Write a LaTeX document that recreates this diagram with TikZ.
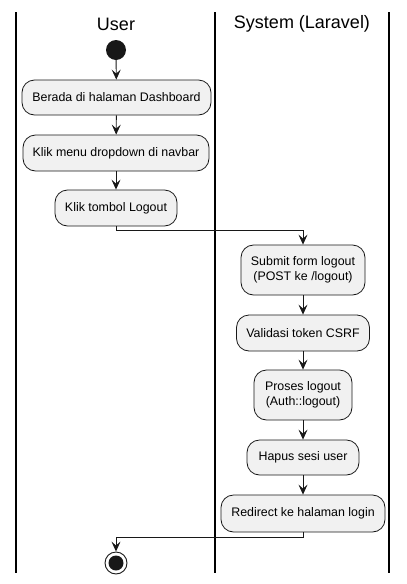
\documentclass[tikz,border=0pt]{standalone}
\usepackage{fontspec}
\setmainfont{Liberation Sans}
\usetikzlibrary{arrows.meta}
\definecolor{boxfill}{HTML}{F1F1F1}
\definecolor{boxline}{HTML}{181818}
\begin{document}
\begin{tikzpicture}[x=1pt,y=-1pt,
  act/.style={draw=boxline,fill=boxfill,rounded corners=12.5pt,line width=0.8pt,
    inner sep=0pt,align=center,font=\fontsize{12.4}{15}\selectfont},
  flow/.style={draw=boxline,line width=0.9pt,-{Stealth[length=10pt,width=9pt,inset=4pt]}},
  lane/.style={draw=black,line width=1.5pt},
  title/.style={font=\fontsize{18}{20}\selectfont}]
\useasboundingbox (0,0) rectangle (407,584);
% swimlanes
\draw[lane] (16,12) -- (16,573);
\draw[lane] (215,12) -- (215,573);
\draw[lane] (389,12) -- (389,573);
\node[title] (tu) at (116,24) {User};
\node[title] (ts) at (302,24) {System (Laravel)};
% start
\node[circle,fill=boxline,minimum size=20pt,inner sep=0pt] (start) at (116,50) {};
% activities
\node[act,minimum width=189pt,minimum height=35pt] (b1) at (116.5,97.5) {Berada di halaman Dashboard};
\node[act,minimum width=186pt,minimum height=36pt] (b2) at (116,153) {Klik menu dropdown di navbar};
\node[act,minimum width=122pt,minimum height=36pt] (b3) at (116,208) {Klik tombol Logout};
\node[act,minimum width=124pt,minimum height=50pt] (b4) at (303,270) {Submit form logout\\(POST ke /logout)};
\node[act,minimum width=133pt,minimum height=36pt] (b5) at (303,333) {Validasi token CSRF};
\node[act,minimum width=98pt,minimum height=50pt] (b6) at (303,395) {Proses logout\\(Auth::logout)};
\node[act,minimum width=112pt,minimum height=35pt] (b7) at (303,457.5) {Hapus sesi user};
\node[act,minimum width=164pt,minimum height=37pt] (b8) at (303,513.5) {Redirect ke halaman login};
% end
\node[circle,draw=boxline,fill=white,line width=0.9pt,minimum size=22pt,inner sep=0pt] (end) at (116,563) {};
\node[circle,fill=boxline,minimum size=15pt,inner sep=0pt] (endin) at (116,563) {};
% flows
\draw[flow] (start) -- (b1);
\draw[flow] (b1) -- (b2);
\draw[flow] (b2) -- (b3);
\draw[flow] (b3.south) -- ++(0,4) -| (b4.north);
\draw[flow] (b4) -- (b5);
\draw[flow] (b5) -- (b6);
\draw[flow] (b6) -- (b7);
\draw[flow] (b7) -- (b8);
\draw[flow] (b8.south) -- ++(0,5) -| (end.north);
\end{tikzpicture}
\end{document}
